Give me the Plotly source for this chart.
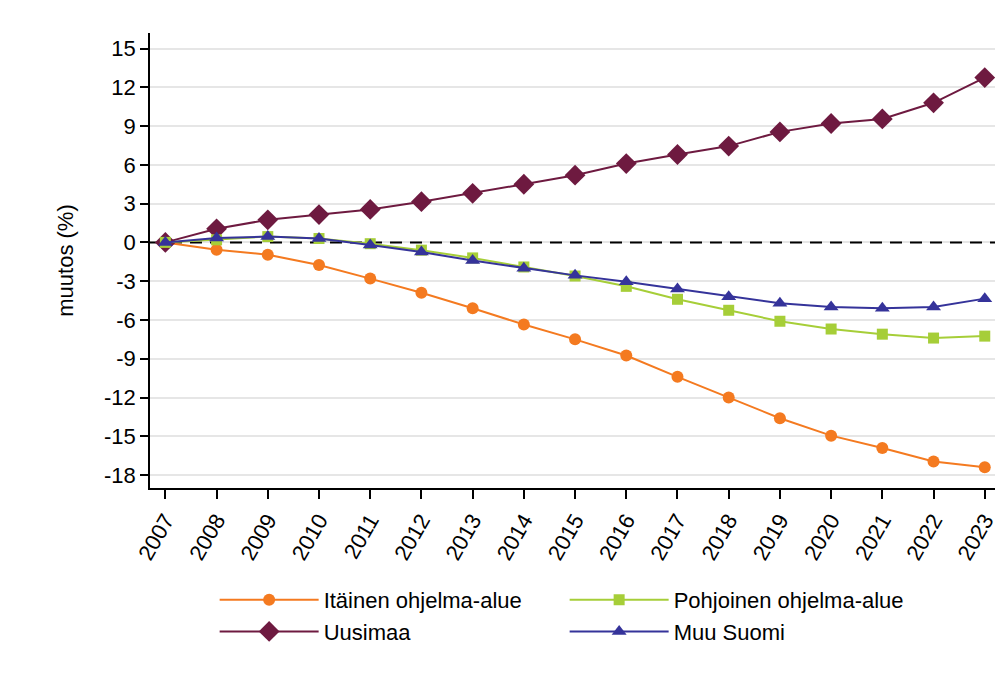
import plotly.graph_objects as go

years = list(range(2007, 2024))
itainen = [0, -0.57, -0.95, -1.75, -2.8, -3.9, -5.1, -6.35, -7.5, -8.75, -10.4, -12.0, -13.6, -14.95, -15.9, -16.95, -17.4]
pohjoinen = [0, 0.2, 0.45, 0.3, -0.1, -0.6, -1.2, -1.9, -2.6, -3.4, -4.4, -5.25, -6.1, -6.7, -7.1, -7.4, -7.25]
uusimaa = [0, 1.05, 1.75, 2.15, 2.55, 3.15, 3.8, 4.5, 5.2, 6.1, 6.8, 7.45, 8.55, 9.2, 9.55, 10.8, 12.75]
muu_suomi = [0, 0.35, 0.45, 0.3, -0.2, -0.75, -1.4, -2.0, -2.55, -3.05, -3.6, -4.2, -4.7, -5.0, -5.1, -5.0, -4.35]
y_ticks = [15, 12, 9, 6, 3, 0, -3, -6, -9, -12, -15, -18]
y_ticktext = [str(v) for v in y_ticks]  # plain hyphen-minus as in reference
x_range = [2006.7, 2023.2]
y_range = [-19.0, 16.2]

FONT = "Liberation Sans, Arial, sans-serif"

series = [
    ("Itäinen ohjelma-alue", itainen, "#F47A20", "circle", 12, 1),
    ("Uusimaa", uusimaa, "#6E1A40", "diamond", 16, 3),
    ("Pohjoinen ohjelma-alue", pohjoinen, "#A6CE38", "square", 11, 2),
    ("Muu Suomi", muu_suomi, "#35339A", "triangle-up", 13, 4),
]

fig = go.Figure()
# dashed reference line at zero (drawn first so the data sit on top)
fig.add_trace(go.Scatter(
    x=x_range, y=[0, 0], mode="lines", showlegend=False, hoverinfo="skip",
    line=dict(color="black", width=2, dash="12px,8px"), cliponaxis=True,
))
for name, vals, col, sym, size, rank in series:
    fig.add_trace(go.Scatter(
        x=years, y=vals, name=name, mode="lines+markers",
        line=dict(color=col, width=2),
        marker=dict(symbol=sym, size=size, color=col),
        legendrank=rank,
    ))

# page body has an 8px margin, so the figure is 8px smaller and margins shifted
fig.update_layout(
    width=1000, height=667,
    margin=dict(l=142, r=13, t=25, b=187, autoexpand=False),
    paper_bgcolor="white", plot_bgcolor="white",
    font=dict(family=FONT, size=22, color="black"),
    showlegend=True,
    legend=dict(orientation="h", x=0.0765, xanchor="left", y=-0.2, yanchor="top",
                entrywidth=236, entrywidthmode="pixels", itemwidth=99,
                font=dict(size=22), tracegroupgap=0, traceorder="normal"),
)
fig.update_xaxes(
    range=x_range, tickmode="array", tickvals=years,
    ticktext=[str(y) for y in years], tickangle=-60,
    showgrid=False, showline=True, linecolor="black", linewidth=1.5,
    ticks="outside", ticklen=9, tickcolor="black", tickwidth=1.5, tickfont=dict(size=22),
    zeroline=False, automargin=False,
)
fig.update_yaxes(
    range=y_range, tickmode="array", tickvals=y_ticks, ticktext=y_ticktext,
    showgrid=True, gridcolor="#E6E6E6", gridwidth=1.5,
    showline=True, linecolor="black", linewidth=1.5,
    ticks="outside", ticklen=8, tickcolor="black", tickwidth=1.5, tickfont=dict(size=22),
    zeroline=False, automargin=False,
    title=dict(text="muutos (%)", font=dict(size=22), standoff=24),
)

fig.write_html("out.html")
